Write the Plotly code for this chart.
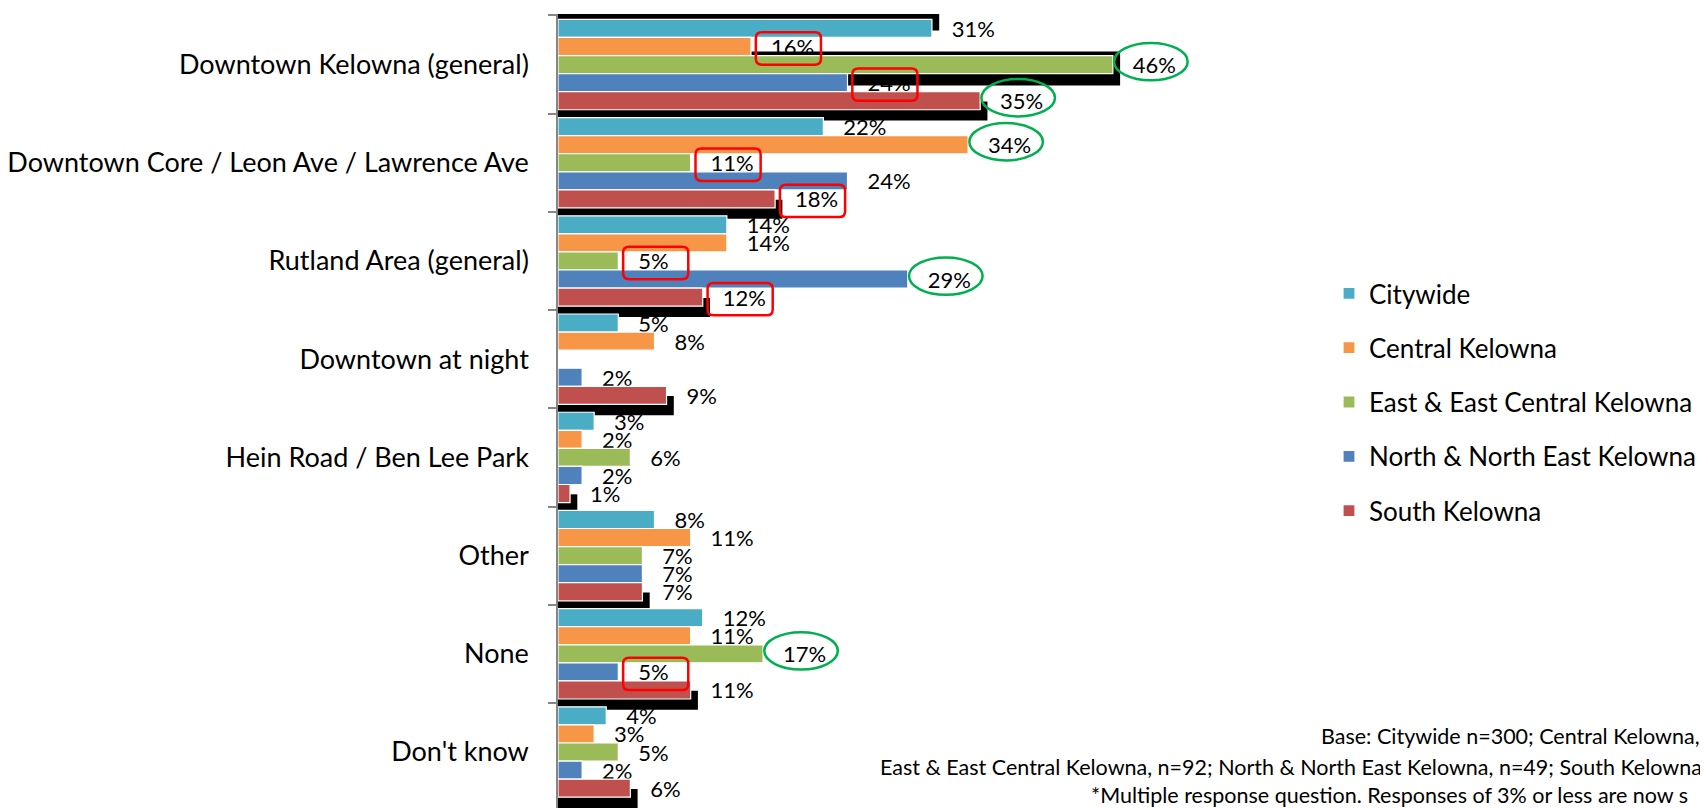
import plotly.graph_objects as go

categories = [
    "Downtown Kelowna (general)",
    "Downtown Core / Leon Ave / Lawrence Ave",
    "Rutland Area (general)",
    "Downtown at night",
    "Hein Road / Ben Lee Park",
    "Other",
    "None",
    "Don't know",
]
series_names = [
    "Citywide",
    "Central Kelowna",
    "East & East Central Kelowna",
    "North & North East Kelowna",
    "South Kelowna",
]
citywide = [31, 22, 14, 5, 3, 8, 12, 4]
central = [16, 34, 14, 8, 2, 11, 11, 3]
east = [46, 11, 5, None, 6, 7, 17, 5]
north = [24, 24, 29, 2, 2, 7, 5, 2]
south = [35, 18, 12, 9, 1, 7, 11, 6]
colors = ["#4BACC6", "#F79646", "#9BBB59", "#4F81BD", "#C0504D"]

# highlighted labels: lowest (red box) and highest (green ellipse)
low_marks = [
    ("Downtown Kelowna (general)", "Central Kelowna"),
    ("Downtown Kelowna (general)", "North & North East Kelowna"),
    ("Downtown Core / Leon Ave / Lawrence Ave", "East & East Central Kelowna"),
    ("Downtown Core / Leon Ave / Lawrence Ave", "South Kelowna"),
    ("Rutland Area (general)", "East & East Central Kelowna"),
    ("Rutland Area (general)", "South Kelowna"),
    ("None", "North & North East Kelowna"),
]
high_marks = [
    ("Downtown Kelowna (general)", "East & East Central Kelowna"),
    ("Downtown Kelowna (general)", "South Kelowna"),
    ("Downtown Core / Leon Ave / Lawrence Ave", "Central Kelowna"),
    ("Rutland Area (general)", "North & North East Kelowna"),
    ("None", "East & East Central Kelowna"),
]
# black shadow artefacts behind bars: (category, series, top shift, bottom shift)
shadow_marks = [(c, "South Kelowna", 0.1, 0.11) for c in categories] + [
    ("Downtown Kelowna (general)", "East & East Central Kelowna", -0.04, 0.12),
    ("Downtown Kelowna (general)", "Citywide", -0.055, -0.07),
]

footnotes = [
    "Base: Citywide n=300; Central Kelowna,",
    "East & East Central Kelowna, n=92; North & North East Kelowna, n=49; South Kelowna",
    "*Multiple response question. Responses of 3% or less are now s",
]

FONT = "Lato, 'Open Sans', sans-serif"
OFF = 8  # page body margin compensation
W, H = 1708 - OFF, 808 - OFF
PL, PR, PT = 558 - OFF, 1330 - OFF, 14 - OFF
BARGAP = 0.08
SLOT = (1 - BARGAP) / 5
values = [citywide, central, east, north, south]

fig = go.Figure()

# shadows first (drawn behind the bars)
for (c, sname, top, bot) in shadow_marks:
    sidx = series_names.index(sname)
    ci = categories.index(c)
    v = values[sidx][ci]
    if v is None:
        continue
    start = (sidx - 2) * SLOT - SLOT / 2 + top
    end = (sidx - 2) * SLOT + SLOT / 2 + bot
    fig.add_trace(go.Bar(
        y=[c], x=[v + 0.6], orientation="h",
        marker=dict(color="black", line=dict(width=0)),
        offset=start, width=end - start,
        showlegend=False, hoverinfo="skip",
    ))

for i, (name, vals) in enumerate(zip(series_names, values)):
    fig.add_trace(go.Bar(
        y=categories, x=vals, orientation="h", name=name,
        marker=dict(color=colors[i], line=dict(color="white", width=1.2)),
        text=[("\u00a0\u00a0\u00a0%d%%" % v) if v is not None else "" for v in vals],
        textposition="outside", constraintext="none", cliponaxis=False,
        textfont=dict(family=FONT, size=22, color="black"),
        legendgroup="g%d" % i,
    ))

shapes = []
for (c, s) in low_marks + high_marks:
    ci = categories.index(c)
    si = series_names.index(s)
    v = values[si][ci]
    yc = ci + (si - 2) * SLOT
    if (c, s) in low_marks:
        x0, x1 = v + 0.4, v + 5.8
        y0, y1 = yc + 0.02 - 0.165, yc + 0.02 + 0.165
        rx, ry = 0.5, 0.06
        path = (f"M {x0+rx},{y0} L {x1-rx},{y0} Q {x1},{y0} {x1},{y0+ry} "
                f"L {x1},{y1-ry} Q {x1},{y1} {x1-rx},{y1} L {x0+rx},{y1} "
                f"Q {x0},{y1} {x0},{y1-ry} L {x0},{y0+ry} Q {x0},{y0} {x0+rx},{y0} Z")
        shapes.append(dict(type="path", path=path, xref="x", yref="y",
                           line=dict(color="#FF0000", width=2.5)))
    else:
        shapes.append(dict(type="circle", xref="x", yref="y",
                           x0=v + 0.1, x1=v + 6.2,
                           y0=yc - 0.03 - 0.19, y1=yc - 0.03 + 0.19,
                           line=dict(color="#00B050", width=2.5)))

annotations = []
foot_pos = [(1319, 736), (878, 767), (1089, 795)]
for txt, (px, py) in zip(footnotes, foot_pos):
    annotations.append(dict(
        text=txt, xref="paper", yref="paper",
        x=(px - OFF - PL) / (PR - PL), y=1 - (py - OFF - PT) / (H - PT),
        xanchor="left", yanchor="middle", showarrow=False,
        font=dict(family=FONT, size=21.5, color="black"),
    ))

fig.update_layout(
    width=W, height=H,
    margin=dict(l=PL, r=W - PR, t=PT, b=0, autoexpand=False),
    barmode="group", bargap=BARGAP, bargroupgap=0,
    plot_bgcolor="white", paper_bgcolor="white",
    shapes=shapes, annotations=annotations,
    legend=dict(
        xref="container", yref="container",
        x=1321 / W, y=1 - 262 / H, xanchor="left", yanchor="top",
        font=dict(family=FONT, size=26, color="black"),
        tracegroupgap=17.5, bgcolor="rgba(0,0,0,0)",
    ),
    xaxis=dict(range=[0, 64], visible=False, showgrid=False, zeroline=False),
    yaxis=dict(
        autorange="reversed", showline=True, linecolor="#868686", linewidth=1.5,
        ticks="outside", tickson="boundaries", ticklen=8, tickcolor="#868686",
        tickwidth=1.5, showgrid=False, zeroline=False, ticklabelstandoff=22,
        tickfont=dict(family=FONT, size=27, color="black"),
    ),
    font=dict(family=FONT),
)

fig.write_html("out.html")
